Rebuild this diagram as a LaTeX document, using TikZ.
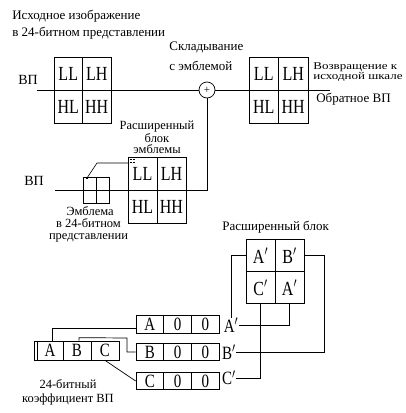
\documentclass[tikz,border=0pt]{standalone}
\usepackage{fontspec}
\usepackage{graphicx}
\setmainfont{Liberation Serif}
\newcommand{\stx}[1]{\scalebox{1}[1.25]{#1}}
\begin{document}
\begin{tikzpicture}[x=1pt,y=-1pt,line width=0.7pt,
  txt/.style={inner sep=0pt,font=\fontsize{13}{13}\selectfont},
  txtl/.style={txt,anchor=west},
  stack/.style={inner sep=0pt,align=center,font=\fontsize{12.5}{#1}\selectfont},
  bigcell/.style={draw,inner sep=0pt,minimum width=#1,minimum height=33pt,font=\fontsize{16}{16}\selectfont},
  bigcell/.default=29pt,
  boxcell/.style={draw,inner sep=0pt,minimum width=#1,minimum height=17.5pt,font=\fontsize{15}{15}\selectfont},
  boxcell/.default=27.7pt,
  abccell/.style={draw,inner sep=0pt,minimum width=#1,minimum height=19pt,font=\fontsize{15}{15}\selectfont},
  lbl/.style={inner sep=0pt,font=\fontsize{15}{15}\selectfont},
  dot/.style={fill,minimum size=1.6pt,inner sep=0pt}]
\useasboundingbox (0,0) rectangle (406,413);

% ---------- texts ----------
\node[txtl] (t1) at (12,16) {Исходное изображение};
\node[txtl] (t2) at (12,33) {в 24-битном представлении};
\node[txt,font=\fontsize{14}{14}\selectfont] (vp1) at (28,80) {ВП};
\node[txtl] (t3) at (169,47) {Складывание};
\node[txtl] (t4) at (169,66) {с эмблемой};
\node[txtl] (t5) at (313,72.5) {\scalebox{1}[0.8]{\parbox{90pt}{\fontsize{13}{10}\selectfont Возвращение к\\исходной шкале}}};
\node[txtl] (t7) at (316,99) {Обратное ВП};
\node[stack=11pt] (t8) at (157,137) {Расширенный\\блок\\эмблемы};
\node[txt,font=\fontsize{14}{14}\selectfont] (vp2) at (34,181) {ВП};
\node[stack=12pt] (t11) at (88.5,224) {\hspace*{3pt}Эмблема\\в 24-битном\\представлении};
\node[txtl] (t14) at (222,227) {Расширенный блок};
\node[stack=14pt] (t15) at (68,392) {24-битный\\коэффициент ВП};

% ---------- top-left block ----------
\node[bigcell=28.5pt] (aLL) at (68.25,73.5) {\stx{LL}};
\node[bigcell=28.5pt] (aLH) at (96.75,73.5) {\stx{LH}};
\node[bigcell=28.5pt] (aHL) at (68.25,106.5) {\stx{HL}};
\node[bigcell=28.5pt] (aHH) at (96.75,106.5) {\stx{HH}};

% ---------- right block ----------
\node[bigcell=29.5pt] (bLL) at (263.75,73.5) {\stx{LL}};
\node[bigcell=29.5pt] (bLH) at (293.25,73.5) {\stx{LH}};
\node[bigcell=29.5pt] (bHL) at (263.75,106.5) {\stx{HL}};
\node[bigcell=29.5pt] (bHH) at (293.25,106.5) {\stx{HH}};

% ---------- adder ----------
\node[draw,circle,minimum size=16pt,inner sep=0pt,font=\fontsize{11}{11}\selectfont] (plus) at (207,90) {+};
\coordinate (s1) at (37,90);
\coordinate (e1) at (330,90);
\draw (s1) -- (plus.west);
\draw (plus.east) -- (e1);

% ---------- emblem block ----------
\node[bigcell] (cLL) at (142.5,173.5) {\stx{LL}};
\node[bigcell] (cLH) at (171.5,173.5) {\stx{LH}};
\node[bigcell] (cHL) at (142.5,206.5) {\stx{HL}};
\node[bigcell] (cHH) at (171.5,206.5) {\stx{HH}};
\coordinate (s2) at (55,190);
\draw (s2) -| (plus.south);

% small emblem
\node[draw,minimum width=13pt,minimum height=26pt,inner sep=0pt] (em1) at (89.5,190) {};
\node[draw,minimum width=13pt,minimum height=26pt,inner sep=0pt] (em2) at (102.5,190) {};
\node[dot] (d0) at (87,178) {};
\coordinate (d1) at (129,163);
\draw[line width=0.6pt] (d0.center) -- (97,163) -- (d1);
\node[dot] (q1) at (131,159.5) {};
\node[dot] (q2) at (134,159.5) {};
\node[dot] (q3) at (131,162.5) {};
\node[dot] (q4) at (134,162.5) {};

% ---------- expanded block ----------
\node[bigcell,minimum height=32pt] (eA) at (260.5,255.5) {\stx{A$'$}};
\node[bigcell,minimum height=32pt] (eB) at (289.5,255.5) {\stx{B$'$}};
\node[bigcell,minimum height=32pt] (eC) at (260.5,287.5) {\stx{C$'$}};
\node[bigcell,minimum height=32pt] (eD) at (289.5,287.5) {\stx{A$'$}};

% labels
\node[lbl] (lA) at (231,325) {\stx{A$'$}};
\node[lbl] (lB) at (229,352) {\stx{B$'$}};
\node[lbl] (lC) at (229,378) {\stx{C$'$}};

% row boxes
\node[boxcell] (rA1) at (149.85,324.5) {\stx{A}};
\node[boxcell] (rA2) at (177.55,324.5) {\stx{0}};
\node[boxcell] (rA3) at (205.25,324.5) {\stx{0}};
\node[boxcell] (rB1) at (149.85,352) {\stx{B}};
\node[boxcell] (rB2) at (177.55,352) {\stx{0}};
\node[boxcell] (rB3) at (205.25,352) {\stx{0}};
\node[boxcell] (rC1) at (149.85,381) {\stx{C}};
\node[boxcell] (rC2) at (177.55,381) {\stx{0}};
\node[boxcell] (rC3) at (205.25,381) {\stx{0}};

% ABC coefficient
\node[abccell=3pt] (k0) at (35.5,350.5) {};
\node[abccell=26pt] (kA) at (50,350.5) {\stx{A}};
\node[abccell=28pt] (kB) at (77,350.5) {\stx{B}};
\node[abccell=28pt] (kC) at (105,350.5) {\stx{C}};

% ---------- connectors ----------
\draw (eA.west) -| (lA.north);
\draw (eB.east) -- ++(20,0) |- (lB.east);
\draw (eC.south) |- (lC.east);
\draw (eD.south) |- (lA.east);

\draw ([xshift=2pt]kA.north) |- ([yshift=-4pt]rA1.west);
\draw ([xshift=2pt]kB.north) -- ++(0,-3) -- (127,338) |- (rB1.west);
\draw (kC.south) -- (rC1.west);
\end{tikzpicture}
\end{document}
